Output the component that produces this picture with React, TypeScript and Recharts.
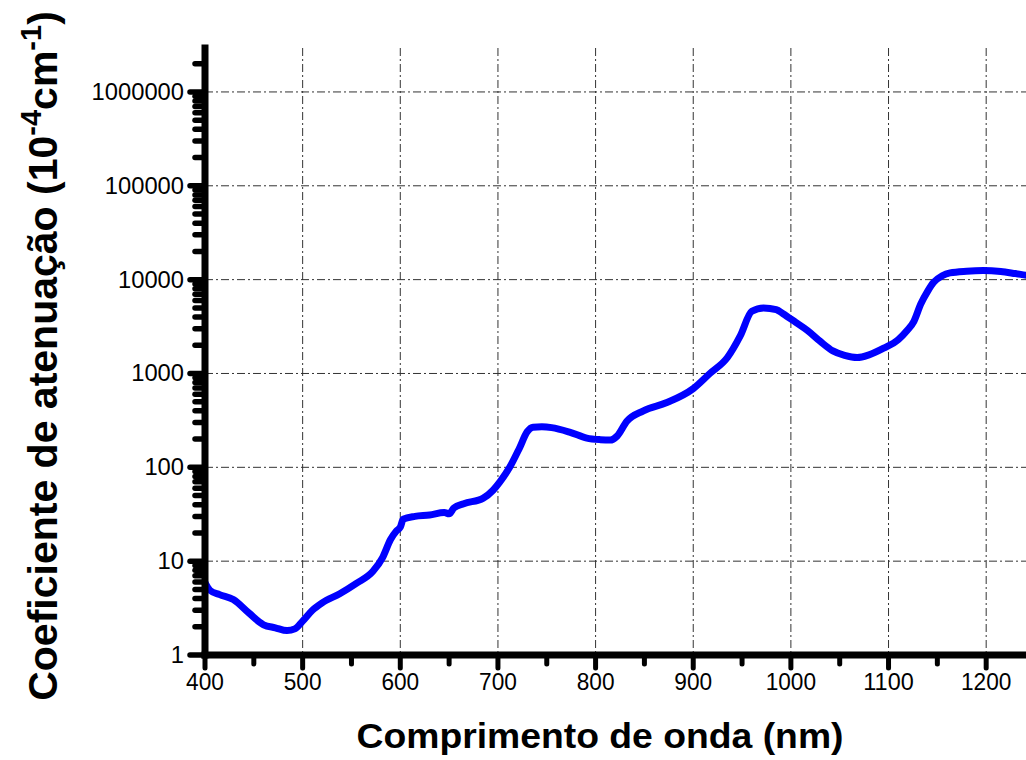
import { LineChart, Line, XAxis, YAxis, CartesianGrid } from 'recharts';

// wavelength (nm) and attenuation coefficient (10^-4 cm^-1)
const wavelength = [
  400, 405, 415, 429, 445, 460, 472, 484, 492, 500, 510, 520, 538, 555, 572, 582, 590, 596, 600, 603,
  615, 630, 645, 650, 655, 665, 685, 695, 702, 712, 722, 730, 736, 745, 755, 774, 791, 805, 815, 822,
  832, 849, 873, 900, 917, 935, 948, 960, 972, 985, 992, 1005, 1017, 1030, 1043, 1055, 1068, 1080, 1095, 1110,
  1119, 1126, 1133, 1140, 1146, 1155, 1163, 1180, 1197, 1215, 1230, 1245, 1250,
];
const attenuation = [
  5.9, 4.9, 4.4, 3.9, 2.8, 2.1, 1.95, 1.82, 1.9, 2.3, 3.0, 3.6, 4.5, 5.8, 7.8, 11, 17, 21, 23, 28,
  30, 31, 33, 32, 37, 41, 47, 57, 70, 100, 160, 240, 268, 270, 265, 236, 205, 197, 195, 215,
  310, 400, 490, 690, 1000, 1480, 2500, 4600, 5000, 4800, 4330, 3500, 2870, 2200, 1740, 1560, 1480, 1580, 1860, 2300,
  2870, 3600, 5500, 7500, 9300, 11000, 11800, 12300, 12500, 12200, 11600, 11000, 10900,
];

const xTicks = [400, 450, 500, 550, 600, 650, 700, 750, 800, 850, 900, 950, 1000, 1050, 1100, 1150, 1200, 1250];
const xMajor = [400, 500, 600, 700, 800, 900, 1000, 1100, 1200];
const yMajor = [1, 10, 100, 1000, 10000, 100000, 1000000];
const yMinorSteps = [2, 3, 4, 5, 6, 7, 8, 9];

const yTicks: number[] = [];
yMajor.forEach((d) => {
  yTicks.push(d);
  yMinorSteps.forEach((k) => {
    if (k * d < 2900000) yTicks.push(k * d);
  });
});

const data = wavelength.map((w, i) => ({ w, a: attenuation[i] }));

const FONT = "Arial, 'Liberation Sans', Helvetica, sans-serif";

function XTick(props: any) {
  const { x, y, payload } = props;
  const v = payload.value;
  const major = v % 100 === 0;
  return (
    <g>
      <line x1={x} y1={y} x2={x} y2={y + (major ? 13 : 9)} stroke="#000" strokeWidth={5} strokeLinecap="round" />
      {major && (
        <text x={x} y={y + 35} textAnchor="middle" fontSize={23} fontFamily={FONT} fill="#000"
          textLength={String(v).length * 12.6} lengthAdjust="spacingAndGlyphs">
          {v}
        </text>
      )}
    </g>
  );
}

function YTick(props: any) {
  const { x, y, payload } = props;
  const v = payload.value;
  const major = yMajor.includes(v);
  return (
    <g>
      <line x1={x} y1={y} x2={x - (major ? 15 : 10)} y2={y} stroke="#000" strokeWidth={5.5} strokeLinecap="round" />
      {major && (
        <text x={x - 21} y={y + 8} textAnchor="end" fontSize={23} fontFamily={FONT} fill="#000"
          textLength={String(v).length * 13.2} lengthAdjust="spacingAndGlyphs">
          {v}
        </text>
      )}
    </g>
  );
}

export default function App() {
  return (
    <div style={{ position: 'absolute', left: 0, top: 0, width: 1026, height: 760, overflow: 'hidden', background: '#fff' }}>
      <LineChart width={1040} height={760} data={data} margin={{ top: 48, right: 5, bottom: 0, left: 0 }}>
        <CartesianGrid
          horizontalValues={yMajor}
          verticalValues={xMajor}
          stroke="#333"
          strokeWidth={1}
          strokeDasharray="8 3 2 3"
        />
        <XAxis
          dataKey="w"
          type="number"
          domain={[400, 1250]}
          ticks={xTicks}
          interval={0}
          allowDataOverflow
          height={105}
          tickLine={false}
          tickSize={0}
          tickMargin={0}
          tick={<XTick />}
          axisLine={{ stroke: '#000', strokeWidth: 7, strokeLinecap: 'square' }}
          label={{
            content: () => (
              <text x={600} y={748} textAnchor="middle" fontSize={35} fontWeight="bold" fontFamily={FONT} fill="#000"
                textLength={487} lengthAdjust="spacingAndGlyphs">
                Comprimento de onda (nm)
              </text>
            ),
          }}
        />
        <XAxis xAxisId="top" orientation="top" height={0} tick={false} tickLine={false}
          axisLine={{ stroke: '#000', strokeWidth: 7, strokeLinecap: 'square' }} />
        <YAxis
          dataKey="a"
          type="number"
          scale="log"
          domain={[1, 2940000]}
          ticks={yTicks}
          interval={0}
          allowDataOverflow
          width={205}
          tickLine={false}
          tickSize={0}
          tickMargin={0}
          tick={<YTick />}
          axisLine={{ stroke: '#000', strokeWidth: 7, strokeLinecap: 'square' }}
          label={{
            content: () => (
              <text transform="translate(57,356) rotate(-90)" textAnchor="middle" fontSize={41} fontWeight="bold"
                fontFamily={FONT} fill="#000">
                Coeficiente de atenuação (10
                <tspan dy={-16} fontSize={29}>-4</tspan>
                <tspan dy={16}>cm</tspan>
                <tspan dy={-16} fontSize={29}>-1</tspan>
                <tspan dy={16}>)</tspan>
              </text>
            ),
          }}
        />
        <Line
          type="monotone"
          dataKey="a"
          stroke="#0000ff"
          strokeWidth={7}
          dot={false}
          isAnimationActive={false}
        />
      </LineChart>
    </div>
  );
}
